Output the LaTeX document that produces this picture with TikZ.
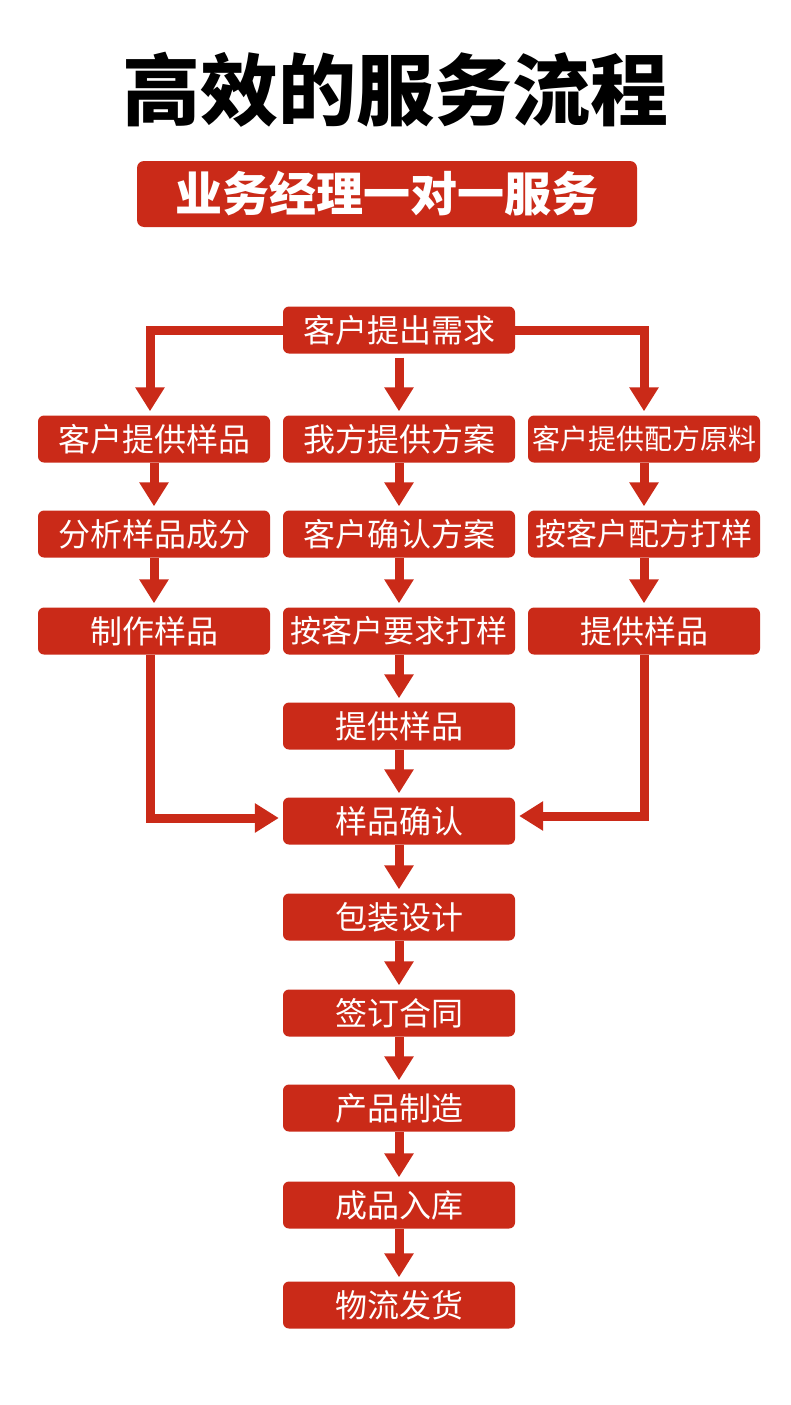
\documentclass[tikz,border=0pt]{standalone}
\usepackage{fontspec}
\setmainfont{Noto Sans CJK SC}
\newfontfamily\cjk{Noto Sans CJK SC}
\usepackage{tikz}
\usetikzlibrary{arrows.meta, calc, positioning}
\definecolor{flowred}{RGB}{202,42,24}

\begin{document}
\begin{tikzpicture}[x=1pt, y=-1pt,
  box/.style={fill=flowred, rounded corners=6pt, minimum width=232pt, minimum height=47pt,
    inner sep=0pt, text=white, font=\cjk\fontsize{32}{34}\selectfont},
  flow/.style={draw=flowred, line width=9pt, -{Triangle[width=28pt,length=24pt]}, shorten >=4pt}]
\useasboundingbox (0,0) rectangle (790,1405);
% title and banner
\node (title) at (395,90) {\cjk\bfseries\fontsize{78}{80}\selectfont 高效的服务流程};
\node[fill=flowred, rounded corners=7pt, minimum width=500pt, minimum height=66pt, text=white]
  (banner) at (387,194) {\cjk\bfseries\fontsize{47}{49}\selectfont 业务经理一对一服务};
% boxes
\node[box] (req) at (399,330) {客户提出需求};
\node[box] (l1) at (154,439) {客户提供样品};
\node[box] (l2) at (154,534) {分析样品成分};
\node[box] (l3) at (154,631) {制作样品};
\node[box] (m1) at (399,439) {我方提供方案};
\node[box] (m2) at (399,534) {客户确认方案};
\node[box, font=\cjk\fontsize{31}{33}\selectfont] (m3) at (399,631) {按客户要求打样};
\node[box] (m4) at (399,726) {提供样品};
\node[box, font=\cjk\fontsize{28}{30}\selectfont] (r1) at (644,439) {客户提供配方原料};
\node[box, font=\cjk\fontsize{31}{33}\selectfont] (r2) at (644,534) {按客户配方打样};
\node[box] (r3) at (644,631) {提供样品};
\node[box] (conf) at (399,821) {样品确认};
\node[box] (pack) at (399,917) {包装设计};
\node[box] (sign) at (399,1013) {签订合同};
\node[box] (make) at (399,1108) {产品制造};
\node[box] (store) at (399,1205) {成品入库};
\node[box] (ship) at (399,1305) {物流发货};
% connectors
\draw[flow] (req.west) -| ([xshift=-4pt]l1.north);
\draw[flow] (req.east) -| (r1.north);
\draw[flow, shorten <=4pt] (req) -- (m1);
\foreach \a/\b in {l1/l2,l2/l3,m1/m2,m2/m3,m3/m4,m4/conf,r1/r2,r2/r3,conf/pack,pack/sign,sign/make,make/store,store/ship}
  \draw[flow] (\a) -- (\b);
\draw[flow] ([xshift=-4pt]l3.south) |- ([yshift=3pt]conf.west);
\draw[flow] (r3.south) |- ([yshift=5pt]conf.east);
\end{tikzpicture}
\end{document}
